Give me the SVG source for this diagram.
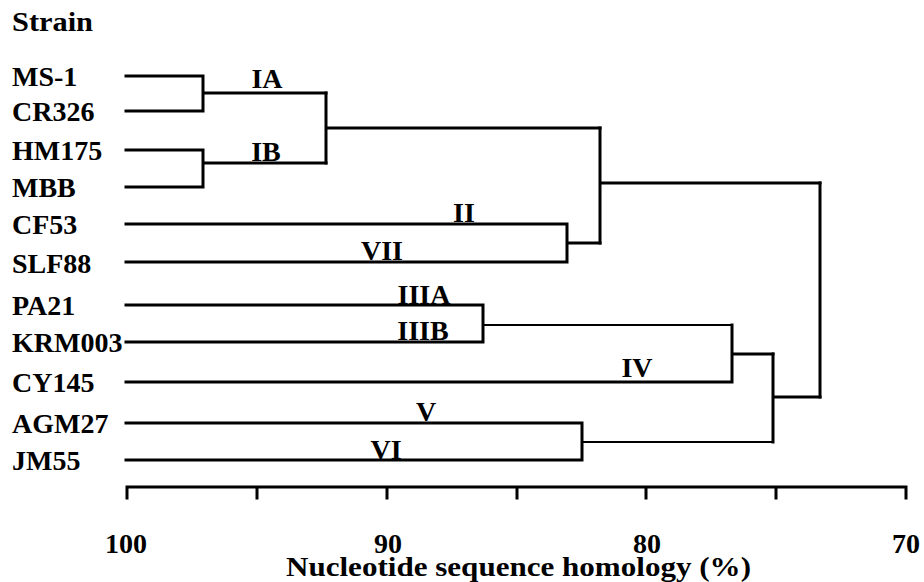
<svg xmlns="http://www.w3.org/2000/svg" width="924" height="582" viewBox="0 0 924 582">
<style>
  .ln { fill: none; stroke: #000; stroke-width: 3; stroke-linecap: square; stroke-linejoin: miter; }
  .thin { stroke-width: 2; }
  .lbl { font-family: "Liberation Serif", "Times New Roman", serif; font-weight: bold; font-size: 28px; fill: #000; }
  .cl { font-family: "Liberation Serif", "Times New Roman", serif; font-weight: bold; font-size: 28px; fill: #000; text-anchor: middle; }
  .ax { font-family: "Liberation Serif", "Times New Roman", serif; font-weight: bold; font-size: 28px; fill: #000; text-anchor: middle; }
</style>
<rect width="924" height="582" fill="#fff"/>
<text class="lbl" x="12" y="31" font-size="29" textLength="81" lengthAdjust="spacingAndGlyphs">Strain</text>
<g id="strains">
  <g id="n-ms1"><text class="lbl" x="12" y="86">MS-1</text></g>
  <g id="n-cr326"><text class="lbl" x="12" y="121">CR326</text></g>
  <g id="n-hm175"><text class="lbl" x="12" y="160">HM175</text></g>
  <g id="n-mbb"><text class="lbl" x="12" y="197">MBB</text></g>
  <g id="n-cf53"><text class="lbl" x="12" y="234">CF53</text></g>
  <g id="n-slf88"><text class="lbl" x="12" y="273">SLF88</text></g>
  <g id="n-pa21"><text class="lbl" x="12" y="315">PA21</text></g>
  <g id="n-krm003"><text class="lbl" x="12" y="352">KRM003</text></g>
  <g id="n-cy145"><text class="lbl" x="12" y="392">CY145</text></g>
  <g id="n-agm27"><text class="lbl" x="12" y="433">AGM27</text></g>
  <g id="n-jm55"><text class="lbl" x="12" y="470">JM55</text></g>
</g>
<g id="connectors">
  <path class="ln" d="M126,76 H203 V111 H126 M203,93 H326"/>
  <path class="ln" d="M126,150 H203 V187 H126 M203,163 H326"/>
  <path class="ln" d="M326,93 V163 M326,128 H600"/>
  <path class="ln" d="M126,224 H567 V262 H126 M567,243 H600"/>
  <path class="ln" d="M600,128 V243 M600,183 H820"/>
  <path class="ln" d="M126,305 H483 V342 H126"/>
  <path class="ln thin" d="M483,325 H732"/>
  <path class="ln" d="M126,382 H732 V325 M732,354 H773"/>
  <path class="ln" d="M126,423 H582 V460 H126"/>
  <path class="ln thin" d="M582,442 H773"/>
  <path class="ln" d="M773,354 V442 M773,397 H820"/>
  <path class="ln" d="M820,183 V397"/>
</g>
<g id="clusters">
  <text class="cl" x="267" y="88">IA</text>
  <text class="cl" x="266" y="161">IB</text>
  <text class="cl" x="464" y="222">II</text>
  <text class="cl" x="382" y="260">VII</text>
  <text class="cl" x="424" y="304">IIIA</text>
  <text class="cl" x="423" y="340">IIIB</text>
  <text class="cl" x="637" y="377">IV</text>
  <text class="cl" x="426" y="421">V</text>
  <text class="cl" x="386" y="459">VI</text>
</g>
<g id="axis">
  <path class="ln" d="M127,498 V487 H906 V498 M257,487 V498 M387,487 V498 M517,487 V498 M646,487 V498 M776,487 V498"/>
  <text class="ax" x="126" y="553">100</text>
  <text class="ax" x="388" y="553">90</text>
  <text class="ax" x="647" y="553">80</text>
  <text class="ax" x="906" y="553">70</text>
  <text class="lbl" x="286" y="576" font-size="27" textLength="465" lengthAdjust="spacingAndGlyphs">Nucleotide sequence homology (%)</text>
</g>
</svg>
